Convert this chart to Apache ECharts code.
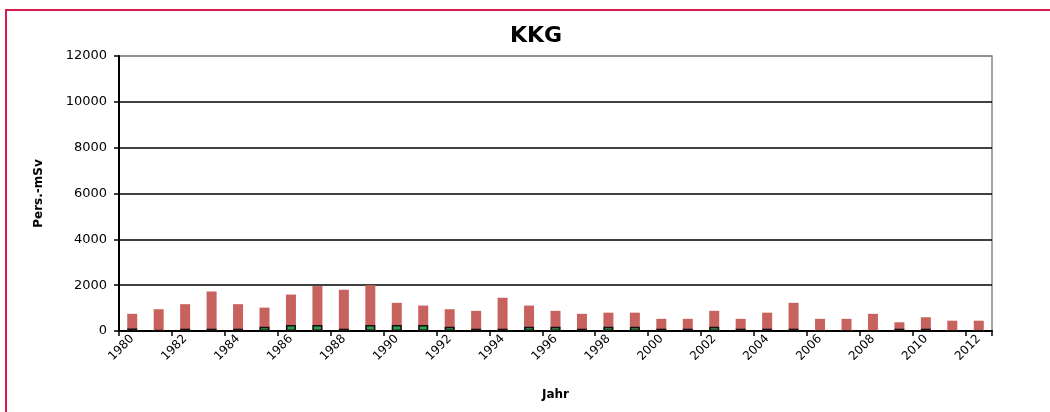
<!DOCTYPE html>
<html>
<head>
<meta charset="utf-8">
<script src="https://cdn.jsdelivr.net/npm/echarts@6/dist/echarts.min.js"></script>
<style>
  html, body { margin: 0; padding: 0; background: #fff; }
  #main { width: 1050px; height: 412px; }
</style>
</head>
<body>
<div id="main"></div>
<script>
// Jahre 1980 - 2012
const years = ['1980','1981','1982','1983','1984','1985','1986','1987','1988','1989',
  '1990','1991','1992','1993','1994','1995','1996','1997','1998','1999',
  '2000','2001','2002','2003','2004','2005','2006','2007','2008','2009',
  '2010','2011','2012']

// rote Balken (gesamt)
const doseTotal = [750, 950, 1170, 1725, 1170, 1020, 1590, 1960, 1800, 2000,
  1230, 1110, 950, 880, 1450, 1110, 880, 750, 800, 800,
  530, 530, 880, 530, 800, 1230, 530, 530, 750, 380,
  600, 450, 450]

// grüne Balken
const doseGreen = [110, 40, 100, 100, 100, 190, 260, 260, 100, 260,
  260, 260, 190, 100, 100, 190, 190, 100, 190, 190,
  100, 100, 190, 100, 100, 100, 30, 30, 30, 100,
  100, 30, 30]

const yTicks = { min: 0, max: 12000, interval: 2000 }

let chart = echarts.init(document.getElementById('main'))
chart.setOption({
  animation: false,
  title: {
    text: 'KKG',
    left: 531,
    top: 20,
    textAlign: 'center',
    textStyle: { fontFamily: 'DejaVu Sans', fontSize: 22, fontWeight: 'bold', color: '#000' }
  },
  graphic: [{
    type: 'rect',
    shape: { x: 6, y: 10, width: 1100, height: 500 },
    style: { fill: 'none', stroke: '#d81b4a', lineWidth: 2 },
    silent: true
  }],
  grid: {
    left: 119, right: 58, top: 56, bottom: 81,
    show: true, borderColor: '#888', borderWidth: 1.5
  },
  xAxis: {
    type: 'category',
    data: years,
    name: 'Jahr',
    nameLocation: 'middle',
    nameGap: 58,
    nameTextStyle: { fontFamily: 'DejaVu Sans', fontSize: 12, fontWeight: 'bold', color: '#000' },
    axisLine: { lineStyle: { color: '#000', width: 2 } },
    axisTick: { show: true, length: 5, lineStyle: { color: '#000', width: 1.5 } },
    axisLabel: {
      interval: 1,
      rotate: 45,
      margin: 6,
      fontFamily: 'DejaVu Sans',
      fontSize: 12,
      color: '#000'
    }
  },
  yAxis: {
    type: 'value',
    min: yTicks.min,
    max: yTicks.max,
    interval: yTicks.interval,
    name: 'Pers.-mSv',
    nameLocation: 'middle',
    nameGap: 74,
    nameTextStyle: { fontFamily: 'DejaVu Sans', fontSize: 12, fontWeight: 'bold', color: '#000' },
    axisLine: { show: true, lineStyle: { color: '#000', width: 2 } },
    axisTick: { show: true, length: 5, lineStyle: { color: '#000', width: 1.5 } },
    axisLabel: {
      fontFamily: 'DejaVu Sans', fontSize: 13, color: '#000', margin: 12,
      formatter: v => String(v)
    },
    splitLine: {
      lineStyle: {
        color: ['#000', '#000', '#000', '#000', '#000', '#000', '#888'],
        width: 1.5
      }
    }
  },
  series: [
    {
      name: 'gesamt',
      type: 'bar',
      data: doseTotal,
      barWidth: 10,
      barGap: '-100%',
      itemStyle: { color: '#c8625e' }
    },
    {
      name: 'grün',
      type: 'bar',
      data: doseGreen,
      barWidth: 10,
      itemStyle: { color: '#2f9e4f', borderColor: '#111', borderWidth: 1.5 }
    }
  ]
})
</script>
</body>
</html>
